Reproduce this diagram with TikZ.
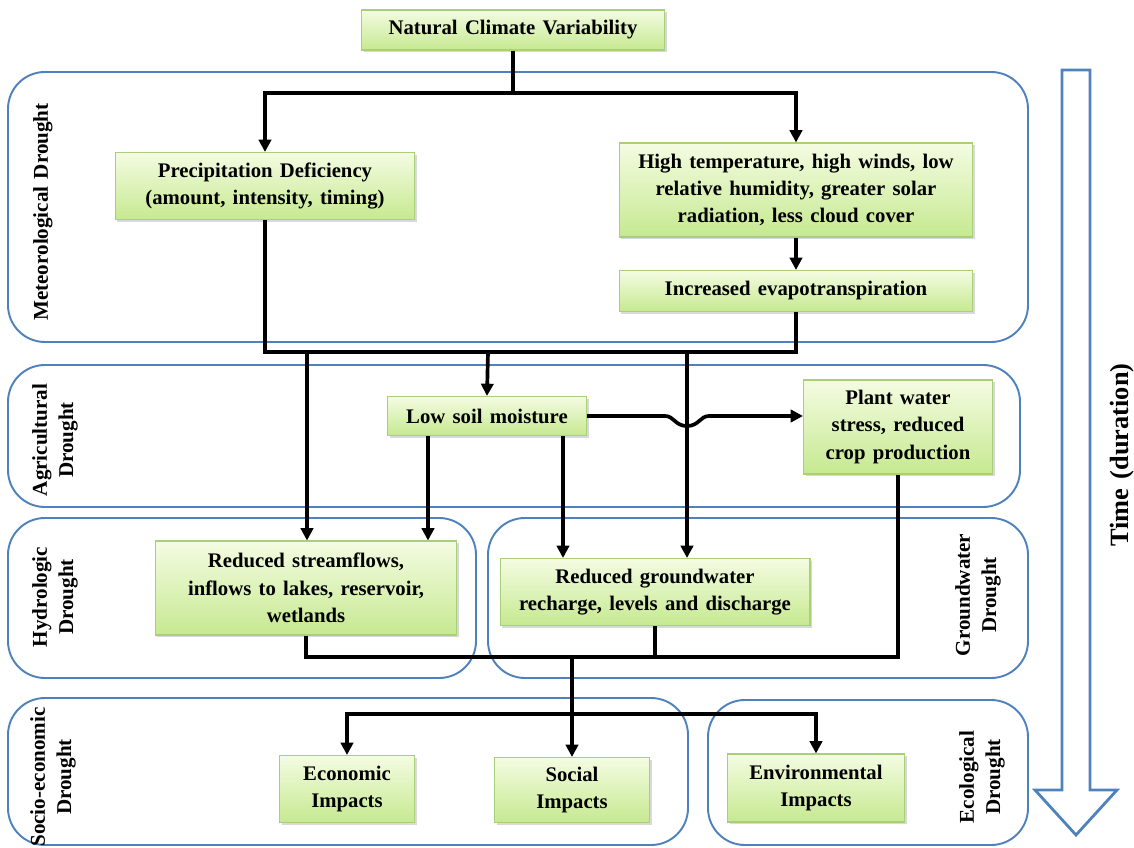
\documentclass[tikz,border=0pt]{standalone}
\usepackage{fontspec}
\setmainfont{Liberation Serif}[WordSpace=1.4]
\usetikzlibrary{arrows.meta,shadows}
\definecolor{zoneblue}{HTML}{4F81BD}
\definecolor{boxedge}{HTML}{A9CF7A}
\definecolor{boxtop}{HTML}{F4FCE2}
\definecolor{boxbot}{HTML}{C6E990}
\tikzset{
    gbox/.style={draw=boxedge, line width=0.6pt, top color=boxtop, bottom color=boxbot,
        inner sep=0pt, align=center, font=\fontsize{11.8}{15.5}\selectfont\bfseries,
        drop shadow={opacity=0.3, shadow xshift=1.2pt, shadow yshift=-1.2pt}},
    zone/.style={draw=zoneblue, line width=1.1pt, rounded corners=21pt},
    zlabel/.style={rotate=90, align=center, font=\fontsize{12}{15}\selectfont\bfseries},
    link/.style={line width=2.1pt},
    flow/.style={link, -{Triangle[length=7pt,width=7pt]}},
}
\begin{document}
\begin{tikzpicture}[x=0.02cm, y=-0.02cm]
                \useasboundingbox (0,0) rectangle (1134,848);
                % 枠の描画
                \draw[zone] (8,72) rectangle (1028,342);
                \draw[zone] (8,365) rectangle (1020,507);
                \draw[zone] (8,518) rectangle (476,678);
                \draw[zone] (488,518) rectangle (1028,678);
                \draw[zone] (8,698) rectangle (688,845);
                \draw[zone] (708,700) rectangle (1028,845);

                \node[zlabel] (metlab) at (43,212) {Meteorological Drought};
                \node[zlabel] (agrlab) at (55,440) {Agricultural\\Drought};
                \node[zlabel] (hydlab) at (55,597) {Hydrologic\\Drought};
                \node[zlabel] (gwlab)  at (978,595) {Groundwater\\Drought};
                \node[zlabel] (soclab) at (53,777) {Socio-economic\\Drought};
                \node[zlabel] (ecolab) at (982,777) {Ecological\\Drought};

                % 時間の矢印
                \draw[draw=zoneblue, line width=1.6pt, line join=miter]
                    (1062,70) -- (1090,70) -- (1090,790) -- (1117,790) -- (1076,835)
                    -- (1035,790) -- (1062,790) -- cycle;
                \node[rotate=90, font=\fontsize{15}{18}\selectfont\bfseries] (timelab) at (1122,455) {Time (duration)};

                % ボックス
                \node[gbox, minimum width=6.06cm, minimum height=0.8cm]  (ncv)    at (513,30)  {Natural Climate Variability};
                \node[gbox, minimum width=6.0cm,  minimum height=1.34cm] (precip) at (265,186) {Precipitation Deficiency\\(amount, intensity, timing)};
                \node[gbox, minimum width=7.08cm, minimum height=1.88cm] (heat)   at (796,190) {High temperature, high winds, low\\relative humidity, greater solar\\radiation, less cloud cover};
                \node[gbox, minimum width=7.08cm, minimum height=0.82cm] (evap)   at (796,291) {Increased evapotranspiration};
                \node[gbox, minimum width=3.98cm, minimum height=0.78cm] (soil)   at (487,416) {Low soil moisture};
                \node[gbox, minimum width=3.78cm, minimum height=1.88cm] (plant)  at (898,427) {Plant water\\stress, reduced\\crop production};
                \node[gbox, minimum width=6.04cm, minimum height=1.88cm] (stream) at (306,588) {Reduced streamflows,\\inflows to lakes, reservoir,\\wetlands};
                \node[gbox, minimum width=6.2cm,  minimum height=1.34cm] (ground) at (655,592) {Reduced groundwater\\recharge, levels and discharge};
                \node[gbox, minimum width=2.7cm,  minimum height=1.34cm] (econ)   at (347,789) {Economic\\Impacts};
                \node[gbox, minimum width=3.1cm,  minimum height=1.3cm]  (social) at (572,790) {Social\\Impacts};
                \node[gbox, minimum width=3.54cm, minimum height=1.36cm] (env)    at (816,788) {Environmental\\Impacts};

                % 分岐点
                \coordinate (jtop)    at (513,93);
                \coordinate (jmet)    at (488,352);
                \coordinate (jstream) at (307,352);
                \coordinate (jground) at (687,352);
                \coordinate (soilL)   at (428,436);
                \coordinate (soilR)   at (563,436);
                \coordinate (jhyd)    at (572,657);
                \coordinate (jimp)    at (572,714);

                % 線の描画
                \draw[link] (ncv.south) -- (jtop);
                \draw[flow] (jtop) -| (precip.north);
                \draw[flow] (jtop) -| (heat.north);
                \draw[flow] (heat) -- (evap);
                \draw[link] (precip.south) |- (jmet) -| (evap.south);
                \draw[flow] (jmet) -- (soil.north);
                \draw[flow] (jstream) -- (jstream |- stream.north);
                \draw[flow] (jground) -- (jground |- ground.north);
                \draw[flow] (soil.east) -- (665,416) .. controls (674,416) and (675,426) .. (687,426)
                    .. controls (699,426) and (700,416) .. (709,416) -- (plant.west |- soil.east);
                \draw[flow] (soilL) -- (soilL |- stream.north);
                \draw[flow] (soilR) -- (soilR |- ground.north);
                \draw[link] (stream.south) |- (jhyd);
                \draw[link] (plant.south) |- (jhyd);
                \draw[link] (ground.south) -- (ground.south |- jhyd);
                \draw[flow] (jhyd) -- (social.north);
                \draw[flow] (jimp) -| (econ.north);
                \draw[flow] (jimp) -| (env.north);
            \end{tikzpicture}
\end{document}
